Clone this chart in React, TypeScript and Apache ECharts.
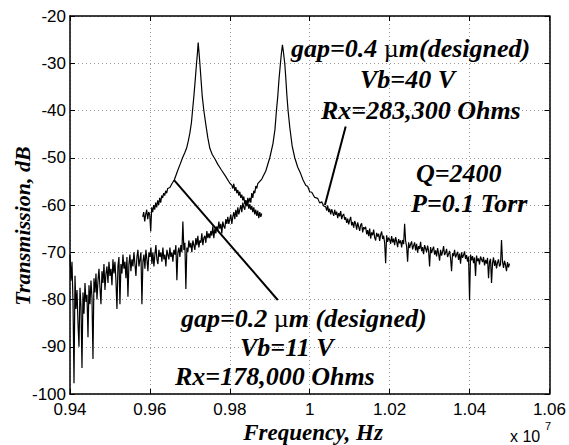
import React, { useEffect, useRef } from 'react';
import * as echarts from 'echarts';

// Axis ranges (frequency in units of 1e7 Hz, transmission in dB)
const X_MIN = 0.94, X_MAX = 1.06, X_STEP = 0.02;
const Y_MIN = -100, Y_MAX = -20, Y_STEP = 10;

// Sample spacing of the read-off noisy traces
const SAMPLE_STEP = 0.00025;

// ---- gap = 0.2 um resonator (peak near 0.972e7 Hz) ----
const gap02LeftStart = 0.9582;
const gap02LeftNoisy = [
  -62.5, -61.5, -63.5, -62.0, -61.0, -63.0, -61.5, -62.0, -65.6, -60.5,
  -61.5, -60.0, -61.0, -59.5, -60.5, -59.0, -60.0, -58.5, -59.5, -58.0,
  -58.5, -57.5, -58.0, -57.0, -57.5, -56.5,
];
const gap02PeakFreq = [
  0.9650, 0.9655, 0.9661, 0.9670, 0.9676, 0.96817, 0.9687, 0.96917, 0.9696, 0.9700,
  0.9704, 0.97067, 0.9710, 0.9713, 0.97167, 0.9719, 0.97208, 0.9723, 0.9725, 0.9728,
  0.9731, 0.9735, 0.9740, 0.9745, 0.9750, 0.9756, 0.97625, 0.9770, 0.9779, 0.9790, 0.9800,
];
const gap02PeakDb = [
  -56.3, -55.5, -54.7, -52.6, -51.3, -50.0, -49.0, -48.0, -46.5, -44.8,
  -42.5, -40.0, -37.0, -34.0, -30.0, -27.8, -25.6, -27.8, -30.0, -33.5,
  -37.0, -40.0, -43.0, -45.8, -48.0, -49.3, -50.2, -51.4, -52.6, -54.0, -55.4,
];
const gap02RightStart = 0.9805;
const gap02RightNoisy = [
  -55.8, -56.5, -55.5, -57.0, -56.2, -57.5, -56.8, -58.0, -57.2, -58.5,
  -57.8, -59.0, -58.2, -59.8, -59.0, -60.3, -59.3, -60.8, -59.8, -61.0,
  -60.2, -61.5, -60.5, -62.0, -61.0, -62.3, -61.2, -62.8, -61.5, -62.5, -61.8,
];

// ---- gap = 0.4 um resonator (peak near 0.993e7 Hz) ----
const gap04LeftStart = 0.94;
const gap04LeftNoisy = [
  -70.5, -76.0, -72.0, -80.5, -97.7, -75.0, -82.0, -78.0, -85.0, -90.0,
  -77.5, -81.5, -94.5, -78.5, -83.0, -76.5, -80.5, -79.0, -88.0, -77.0,
  -81.0, -76.0, -79.5, -92.6, -75.5, -78.5, -74.5, -80.0, -76.0, -73.5,
  -77.5, -81.0, -74.0, -76.5, -72.5, -78.0, -74.5, -73.0, -76.5, -72.0,
  -75.0, -73.5, -77.0, -71.5, -74.5, -72.0, -76.0, -82.0, -73.0, -71.0,
  -81.0, -72.5, -74.5, -70.5, -73.5, -72.0, -75.5, -71.0, -79.4, -72.5,
  -70.5, -74.0, -71.5, -73.0, -70.0, -72.5, -75.0, -71.0, -69.5, -73.0,
  -71.5, -70.0, -81.0, -72.0, -70.5, -73.5, -69.5, -71.5, -74.0, -70.0,
  -71.0, -69.0, -72.5, -70.0, -73.0, -70.5, -68.5, -71.5, -72.5, -69.5,
  -71.0, -70.0, -72.0, -69.0, -71.5, -70.5, -73.0, -69.5, -70.5, -71.5,
  -69.0, -71.0, -70.0, -72.0, -69.5, -70.5, -68.5, -75.9, -70.0, -69.0,
  -71.0, -68.5, -70.0, -63.5, -69.5, -68.0, -77.8, -69.0, -70.0, -67.5,
  -69.0, -68.0, -70.0, -67.5, -68.5, -69.5, -67.0, -68.5, -66.5, -69.0,
  -67.5, -68.0, -66.0, -68.5, -67.0, -66.5, -68.0, -65.5, -67.0, -66.0,
  -67.0, -65.5, -66.5, -64.5, -67.0, -65.0, -66.0, -64.5, -65.5, -63.5,
  -65.0, -64.0, -66.0, -63.5, -64.5, -65.0, -63.0, -64.0, -62.5, -64.0,
  -63.0, -62.0, -64.0, -62.5, -61.5, -63.0, -61.0, -62.5, -60.5, -62.0,
  -61.0, -60.0, -61.5, -59.5, -60.5, -61.0, -59.0, -60.0, -58.5, -59.5,
  -58.5, -59.5, -57.5, -58.5, -57.0, -57.5, -56.0, -56.5, -55.5,
];
const gap04PeakFreq = [
  0.9880, 0.9890, 0.9900, 0.9908, 0.9913, 0.99167, 0.9920, 0.9923, 0.99267, 0.9929,
  0.99317, 0.9934, 0.9936, 0.99375, 0.9940, 0.9943, 0.99458, 0.9950, 0.9956, 0.99625,
  0.9970, 0.9977, 0.99833, 0.9990, 0.9995, 1.0000, 1.0005, 1.00125, 1.0020, 1.0025, 1.0030, 1.0035,
];
const gap04PeakDb = [
  -54.5, -52.8, -50.0, -47.0, -44.0, -40.0, -37.0, -33.5, -30.0, -28.0,
  -26.1, -27.5, -29.0, -30.0, -33.0, -37.0, -40.0, -43.5, -47.5, -50.0,
  -52.0, -53.3, -54.7, -55.8, -56.1, -57.2, -57.3, -58.4, -58.6, -59.6, -59.3, -60.2,
];
const gap04TailStart = 1.004;
const gap04TailNoisy = [
  -60.4, -61.2, -60.1, -61.5, -60.8, -62.0, -60.9, -61.6, -62.3, -61.0,
  -62.1, -61.4, -62.8, -61.7, -62.4, -61.3, -63.0, -62.2, -61.9, -63.1,
  -62.6, -63.8, -62.9, -64.1, -63.2, -62.5, -64.3, -63.6, -64.8, -63.4,
  -64.0, -65.2, -63.7, -64.6, -65.5, -64.2, -63.9, -65.8, -64.7, -65.1,
  -64.6, -66.2, -65.3, -66.6, -65.0, -67.1, -65.8, -66.4, -65.2, -66.9,
  -67.5, -65.9, -66.7, -66.1, -67.6, -66.3, -65.6, -67.2, -66.5, -68.0,
  -72.3, -66.4, -67.8, -66.9, -67.3, -68.2, -66.6, -67.9, -67.1, -68.5,
  -66.8, -67.7, -68.9, -67.2, -68.1, -67.5, -69.0, -67.4, -68.3, -64.0,
  -67.6, -68.8, -72.0, -67.9, -69.1, -68.3, -67.7, -69.4, -68.6, -67.9,
  -69.6, -68.2, -70.1, -68.7, -69.3, -67.8, -69.8, -68.9, -70.4, -68.5,
  -69.2, -70.0, -68.6, -69.7, -73.0, -68.9, -70.2, -69.4, -68.8, -70.5,
  -69.6, -70.9, -69.1, -70.3, -71.8, -69.5, -70.7, -69.9, -68.7, -70.6,
  -70.1, -69.3, -71.0, -70.4, -69.7, -71.3, -74.0, -70.2, -70.8, -69.5,
  -71.1, -70.5, -69.9, -71.6, -70.3, -72.4, -70.0, -71.2, -70.6, -69.8,
  -71.4, -70.6, -72.0, -70.9, -80.1, -70.5, -71.7, -70.8, -72.3, -71.1,
  -75.0, -70.7, -71.9, -71.3, -72.6, -70.9, -71.5, -72.1, -71.0, -72.8,
  -71.6, -72.4, -71.2, -75.5, -72.0, -71.4, -76.5, -72.3, -71.1, -72.9,
  -71.7, -73.4, -72.2, -71.5, -73.0, -72.6, -67.4, -72.0, -73.3, -71.8,
  -72.7, -74.0, -72.1, -73.2, -72.4,
];

// Annotation pointer lines [freq, dB] endpoints
const pointer02 = [[0.966, -54.7], [0.992, -80.1]];
const pointer04 = [[1.009, -43.4], [1.0038, -60.0]];

// Annotation texts
const note04 = ['gap=0.4 {mu|\u00b5}m(designed)', 'Vb=40 V', 'Rx=283,300 Ohms'];
const noteQ = ['Q=2400', 'P=0.1 Torr'];
const note02 = ['gap=0.2 {mu|\u00b5}m (designed)', 'Vb=11 V', 'Rx=178,000 Ohms'];

function sampled(start: number, values: number[]): [number, number][] {
  return values.map((v, i) => [start + i * SAMPLE_STEP, v]);
}
function paired(freqs: number[], dbs: number[]): [number, number][] {
  return freqs.map((f, i) => [f, dbs[i]]);
}

const SERIF = 'Liberation Serif, serif';
const SANS = 'Liberation Sans, Arial, sans-serif';

function noteText(text: string, x: number, y: number, size = 26) {
  return {
    type: 'text',
    x,
    y,
    style: {
      text,
      fill: '#000',
      fontFamily: SERIF,
      fontSize: size,
      fontStyle: 'italic',
      fontWeight: 'bold',
      align: 'left',
      verticalAlign: 'middle',
      rich: {
        mu: { fontFamily: SERIF, fontSize: size, fontStyle: 'normal', fontWeight: 'normal', fill: '#000' },
      },
    },
    z: 100,
  };
}

export default function App() {
  const ref = useRef<HTMLDivElement>(null);
  useEffect(() => {
    if (!ref.current) return;
    const chart = echarts.init(ref.current, undefined, { renderer: 'svg' });

    const gap02Data = [
      ...sampled(gap02LeftStart, gap02LeftNoisy),
      ...paired(gap02PeakFreq, gap02PeakDb),
      ...sampled(gap02RightStart, gap02RightNoisy),
    ];
    const gap04Data = [
      ...sampled(gap04LeftStart, gap04LeftNoisy),
      ...paired(gap04PeakFreq, gap04PeakDb),
      ...sampled(gap04TailStart, gap04TailNoisy),
    ];

    const axisLine = { show: true, lineStyle: { color: '#000', width: 1.5 } };
    const tick = { show: true, inside: true, length: 5, lineStyle: { color: '#000', width: 1 } };
    const grid = { show: true, lineStyle: { color: '#999', width: 1, type: [1, 3] as any } };
    const label = { color: '#000', fontFamily: SANS, fontSize: 17 };

    const fmtX = (v: number) => String(+v.toFixed(2));
    const fmtY = (v: number) => String(Math.round(v));

    const markLineStyle = (pts: number[][]) => ({
      silent: true,
      symbol: 'none',
      animation: false,
      label: { show: false },
      lineStyle: { color: '#000', width: 2, type: 'solid' },
      data: [[{ coord: pts[0] }, { coord: pts[1] }]],
    });

    chart.setOption({
      animation: false,
      backgroundColor: '#fff',
      grid: { left: 70, right: 19, top: 16, bottom: 51, containLabel: false },
      xAxis: [
        {
          type: 'value', min: X_MIN, max: X_MAX, interval: X_STEP, position: 'bottom',
          axisLine, axisTick: tick, splitLine: grid,
          axisLabel: { ...label, margin: 7, formatter: fmtX, showMaxLabel: true, showMinLabel: true },
        },
        {
          type: 'value', min: X_MIN, max: X_MAX, interval: X_STEP, position: 'top',
          axisLine, axisTick: tick, splitLine: { show: false }, axisLabel: { show: false },
        },
      ],
      yAxis: [
        {
          type: 'value', min: Y_MIN, max: Y_MAX, interval: Y_STEP, position: 'left',
          axisLine, axisTick: tick, splitLine: grid,
          axisLabel: { ...label, margin: 4, formatter: fmtY },
        },
        {
          type: 'value', min: Y_MIN, max: Y_MAX, interval: Y_STEP, position: 'right',
          axisLine, axisTick: tick, splitLine: { show: false }, axisLabel: { show: false },
        },
      ],
      series: [
        {
          name: 'gap=0.2 um', type: 'line', data: gap02Data, showSymbol: false, symbol: 'none',
          lineStyle: { color: '#000', width: 1.2 }, xAxisIndex: 0, yAxisIndex: 0,
          markLine: markLineStyle(pointer02),
        },
        {
          name: 'gap=0.4 um', type: 'line', data: gap04Data, showSymbol: false, symbol: 'none',
          lineStyle: { color: '#000', width: 1.2 }, xAxisIndex: 0, yAxisIndex: 0,
          markLine: markLineStyle(pointer04),
        },
      ],
      graphic: [
        noteText(note04[0], 291, 48),
        noteText(note04[1], 360, 79),
        noteText(note04[2], 321, 110),
        noteText(noteQ[0], 416, 173),
        noteText(noteQ[1], 411, 203),
        noteText(note02[0], 181, 318),
        noteText(note02[1], 240, 347),
        noteText(note02[2], 175, 376),
        {
          type: 'text', x: 313, y: 432,
          style: {
            text: 'Frequency, Hz', fill: '#000', fontFamily: SERIF, fontSize: 23,
            fontStyle: 'italic', fontWeight: 'bold', align: 'center', verticalAlign: 'middle',
          },
        },
        {
          type: 'text', x: 22, y: 226, rotation: Math.PI / 2,
          style: {
            text: 'Transmission, dB', fill: '#000', fontFamily: SERIF, fontSize: 22,
            fontStyle: 'italic', fontWeight: 'bold', align: 'center', verticalAlign: 'middle',
          },
        },
        {
          type: 'text', x: 510, y: 436,
          style: { text: 'x 10', fill: '#000', fontFamily: SANS, fontSize: 16, align: 'left', verticalAlign: 'middle' },
        },
        {
          type: 'text', x: 545, y: 426,
          style: { text: '7', fill: '#000', fontFamily: SANS, fontSize: 11, align: 'left', verticalAlign: 'middle' },
        },
      ],
    });
    return () => chart.dispose();
  }, []);
  return (
    <div
      ref={ref}
      style={{ position: 'fixed', left: 0, top: 0, width: 569, height: 445, background: '#fff' }}
    />
  );
}
